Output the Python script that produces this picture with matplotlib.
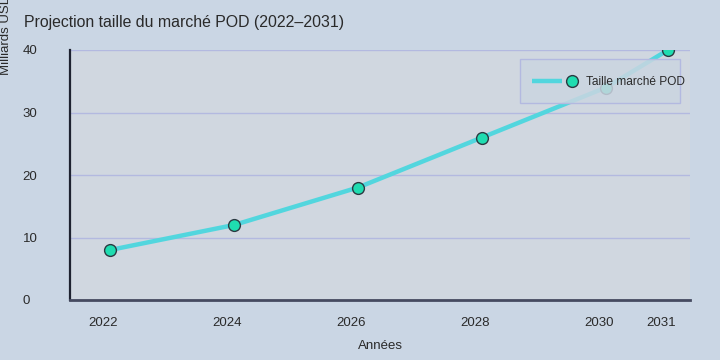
import matplotlib
matplotlib.use("Agg")
import matplotlib.pyplot as plt
from matplotlib.lines import Line2D
from matplotlib.patches import Rectangle
from matplotlib.legend_handler import HandlerBase
import matplotlib.transforms as mtrans

years = [2022, 2024, 2026, 2028, 2030, 2031]
market = [8, 12, 18, 26, 34, 40]
yticks = [0, 10, 20, 30, 40]
series_name = "Taille marché POD"

LINE_C = '#52d6de'
MK_FACE = '#1fdcb0'
MK_EDGE = '#2b3a42'
TXT = '#2a2a2a'

plt.rcParams['font.family'] = ['Liberation Sans', 'DejaVu Sans']

W, H = 720, 360
fig = plt.figure(figsize=(7.2, 3.6), dpi=100)
fig.patch.set_facecolor('#cad6e4')
ax = fig.add_axes([70/W, 1-300/H, 620/W, 250/H])
ax.set_facecolor('#d0d7e0')

line, = ax.plot(years, market, color=LINE_C, lw=3.2, marker='o', markersize=8.5,
                markerfacecolor=MK_FACE, markeredgecolor=MK_EDGE, markeredgewidth=1.0,
                label=series_name, zorder=3)

ax.set_xlim(2022 - 40/62, 2031 + 22/62)
ax.set_ylim(0, 40)
ax.set_yticks(yticks)
ax.set_xticks(years)
ax.set_xticklabels([str(y) for y in years], fontsize=9.5, color=TXT)
ax.tick_params(axis='both', length=0, labelsize=9.5, colors=TXT)
ax.tick_params(axis='x', pad=12)
ax.tick_params(axis='y', pad=34)
for lbl in ax.get_yticklabels():
    lbl.set_horizontalalignment('left')
shift = mtrans.ScaledTranslation(-7/100, 0, fig.dpi_scale_trans)
for lbl in ax.get_xticklabels():
    lbl.set_transform(lbl.get_transform() + shift)

ax.grid(axis='y', color='#b3b9e0', lw=1)
ax.set_axisbelow(True)
for s in ['top', 'right']:
    ax.spines[s].set_visible(False)
ax.spines['left'].set_color('#1e2230')
ax.spines['left'].set_linewidth(1.6)
ax.spines['bottom'].set_color('#454a60')
ax.spines['bottom'].set_linewidth(2)

ax.set_xlabel('Années', fontsize=9.5, color=TXT, labelpad=8)
fig.text(6/W, 1-35/H, 'Milliards USD', rotation=90, ha='center', va='center', fontsize=9.5, color=TXT)
fig.text(24/W, 1-22/H, 'Projection taille du marché POD (2022–2031)', ha='left', va='center', fontsize=11.45, color=TXT)

# legend box (semi-transparent, drawn over the line)
box = Rectangle((520/W, 1-103/H), 160/W, 44/H, transform=fig.transFigure,
                facecolor='#cbd5e1', alpha=0.85, edgecolor='none', zorder=4)
ax.add_artist(box)
box.set_clip_on(False)
frame = Rectangle((520/W, 1-103/H), 160/W, 44/H, transform=fig.transFigure,
                  facecolor='none', edgecolor='#b3b9e0', lw=1, zorder=4.1)
ax.add_artist(frame)
frame.set_clip_on(False)


class LineThenMarker(HandlerBase):
    def create_artists(self, legend, orig, xdescent, ydescent, width, height, fontsize, trans):
        y = height / 2 - ydescent
        x0 = -xdescent
        l = Line2D([x0, x0 + width * 0.6], [y, y], color=LINE_C, lw=3.2, solid_capstyle='butt')
        m = Line2D([x0 + width * 0.8], [y], marker='o', markersize=8.5, markerfacecolor=MK_FACE,
                   markeredgecolor=MK_EDGE, markeredgewidth=1.0, linestyle='none')
        l.set_transform(trans)
        m.set_transform(trans)
        return [l, m]


leg = ax.legend(handles=[line], labels=[series_name], handler_map={line: LineThenMarker()},
                loc='center left', bbox_to_anchor=(532/W, 1-82/H), bbox_transform=fig.transFigure,
                frameon=False, fontsize=8.6, handlelength=50*0.72/8.6, handletextpad=0.3,
                borderpad=0, borderaxespad=0)
for t in leg.get_texts():
    t.set_color(TXT)
leg.set_zorder(5)

fig.savefig('out.png', dpi=100, facecolor=fig.get_facecolor())
